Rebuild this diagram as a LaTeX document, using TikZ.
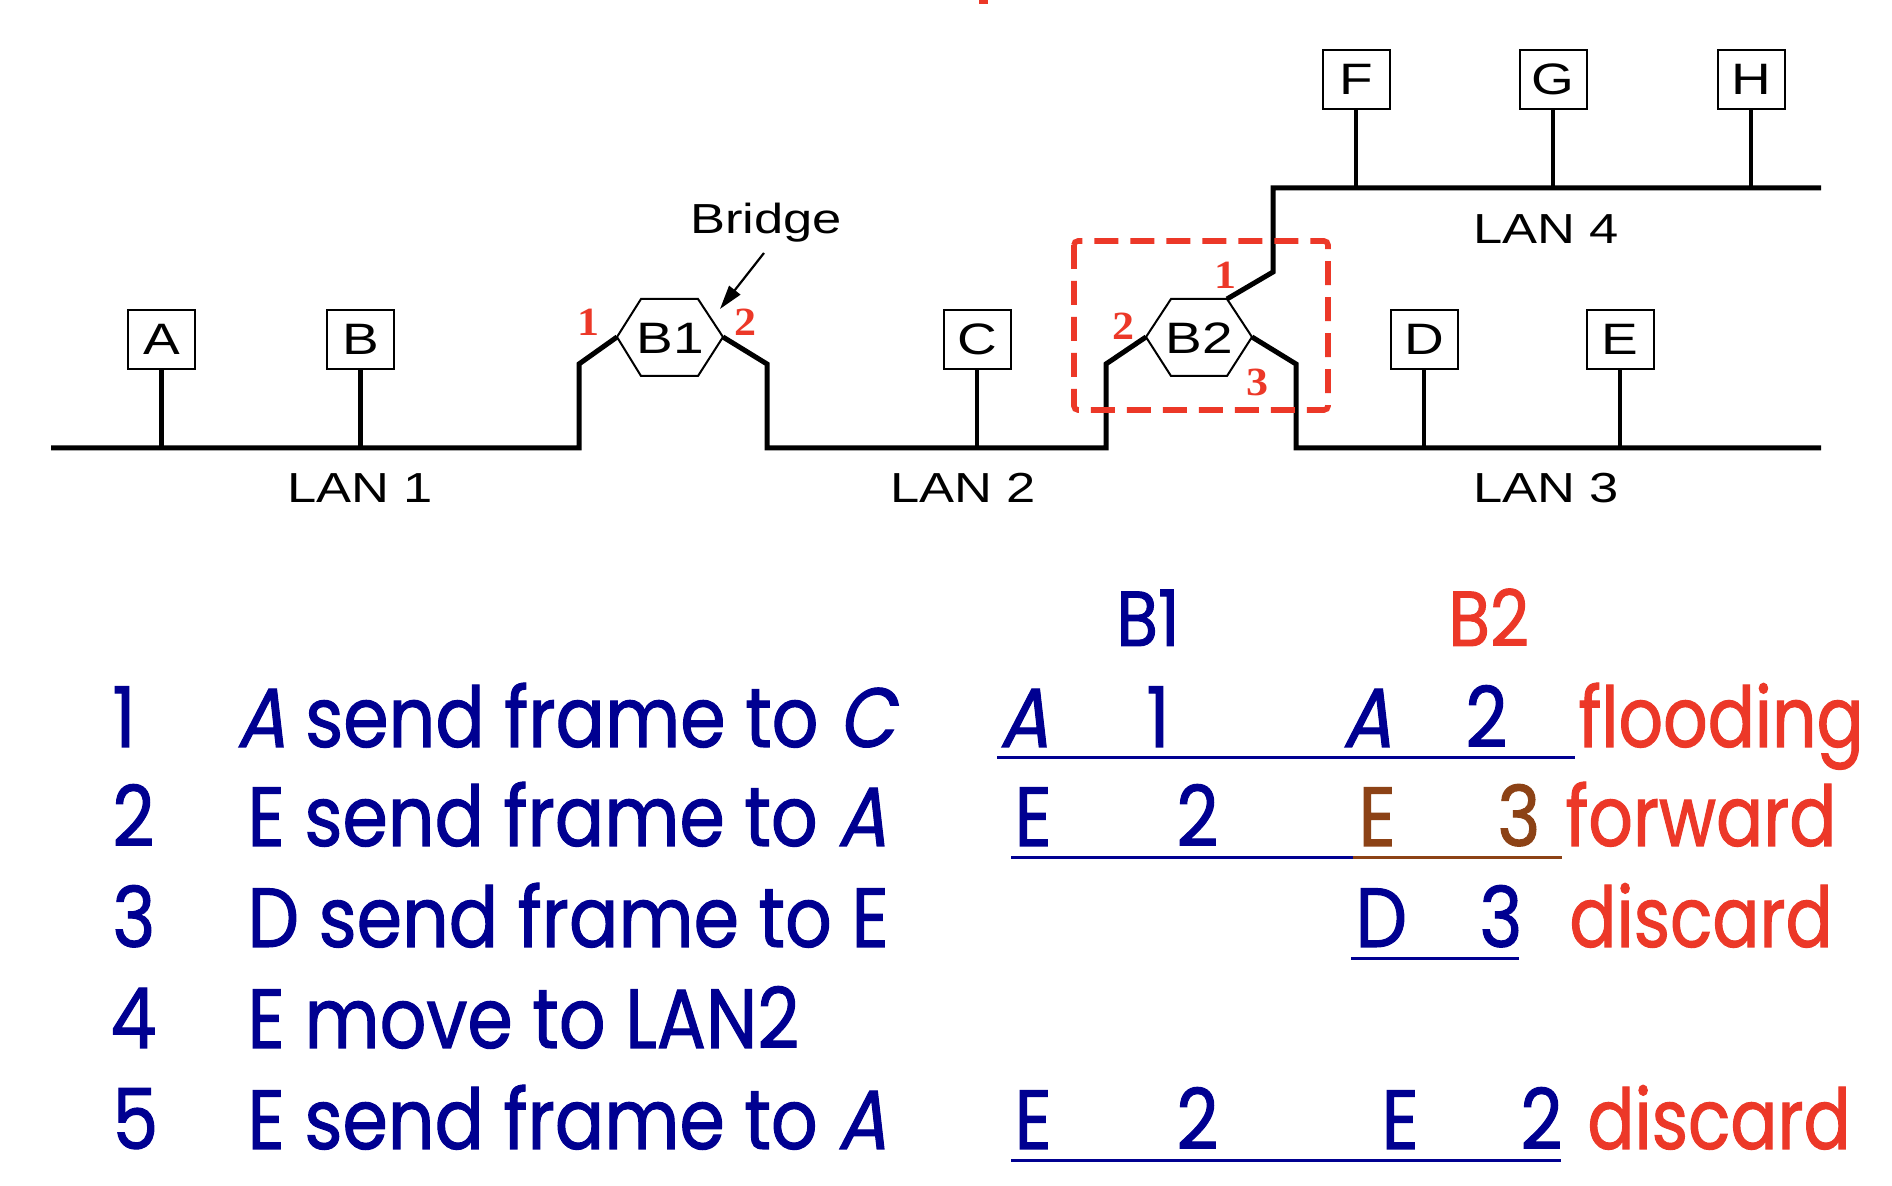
\documentclass[tikz,border=0pt]{standalone}
\usepackage{fontspec}
\setmainfont{Liberation Sans}
\newfontfamily\diagfont{Liberation Sans}[FakeStretch=1.25]
\newfontfamily\portfont{Liberation Serif}[FakeStretch=1.1]
\newfontfamily\hand{Poppins}[FakeStretch=0.87, FakeBold=1.2]
\newfontfamily\handit{Poppins}[FakeStretch=0.87, FakeSlant=0.2, FakeBold=1.2]
\newfontfamily\handact{Poppins}[FakeStretch=0.83, FakeBold=1.2]
\usetikzlibrary{arrows.meta}

\definecolor{navy}{RGB}{0,0,145}
\definecolor{hotred}{RGB}{236,56,40}
\definecolor{rust}{RGB}{140,66,22}

\tikzset{
  bus/.style={line width=2.5pt, line join=miter, line cap=butt},
  stem/.style={line width=2.1pt},
  hexline/.style={line width=1pt, line join=miter},
  station/.style={draw, line width=1pt, minimum width=33.5pt, minimum height=29.5pt,
    inner sep=0pt, font=\diagfont\fontsize{22}{22}\selectfont},
  hexlabel/.style={inner sep=0pt, font=\diagfont\fontsize{22}{22}\selectfont},
  lanlabel/.style={inner sep=0pt, font=\diagfont\fontsize{21}{21}\selectfont},
  portnum/.style={inner sep=0pt, text=hotred, font=\portfont\bfseries\fontsize{20}{20}\selectfont},
  row/.style={anchor=base west, inner sep=0pt, text=navy, font=\hand\fontsize{42}{42}\selectfont},
  head/.style={anchor=base west, inner sep=0pt, font=\hand\fontsize{39}{39}\selectfont},
  act/.style={anchor=base west, inner sep=0pt, text=hotred, font=\handact\fontsize{42}{42}\selectfont},
  uline/.style={line width=1.5pt, draw=navy},
}

\begin{document}
\begin{tikzpicture}[x=0.5pt, y=-0.5pt]
  \useasboundingbox (0,0) rectangle (1892,1186);
  \fill[white] (0,0) rectangle (1892,1186);

  % remnant of a heading above the frame
  \fill[hotred] (979,0) rectangle (988,4);

  % ---- bridge B1 (hexagon) ----
  \coordinate (b1W) at (617,337);
  \coordinate (b1NW) at (641,299);
  \coordinate (b1NE) at (698,299);
  \coordinate (b1E) at (723,337);
  \coordinate (b1SE) at (698,376);
  \coordinate (b1SW) at (641,376);
  \draw[hexline] (b1W) -- (b1NW) -- (b1NE) -- (b1E) -- (b1SE) -- (b1SW) -- cycle;
  \node[hexlabel] (B1) at (670,338) {B1};

  % ---- bridge B2 (hexagon) ----
  \coordinate (b2W) at (1146,337);
  \coordinate (b2NW) at (1171,299);
  \coordinate (b2NE) at (1227,299);
  \coordinate (b2E) at (1252,337);
  \coordinate (b2SE) at (1227,376);
  \coordinate (b2SW) at (1171,376);
  \draw[hexline] (b2W) -- (b2NW) -- (b2NE) -- (b2E) -- (b2SE) -- (b2SW) -- cycle;
  \node[hexlabel] (B2) at (1199,338) {B2};

  % ---- LAN segments ----
  \coordinate (lan1w) at (51,448);
  \coordinate (lan1e) at (579,448);
  \coordinate (lan2w) at (767,448);
  \coordinate (lan2e) at (1106,448);
  \coordinate (lan3w) at (1296,448);
  \coordinate (lan3e) at (1821,448);
  \coordinate (lan4w) at (1273,188);
  \coordinate (lan4e) at (1821,188);

  \draw[bus] (lan1w) -- (lan1e) -- (579,364) -- (b1W);
  \draw[bus] (b1E) -- (767,364) -- (lan2w) -- (lan2e) -- (1106,364) -- (b2W);
  \draw[bus] (b2E) -- (1296,364) -- (lan3w) -- (lan3e);
  \draw[bus] (b2NE) -- (1273,272) -- (lan4w) -- (lan4e);

  % ---- stations ----
  \node[station] (A) at (161.5,339.5) {A};
  \node[station] (B) at (360.5,339.5) {B};
  \node[station] (C) at (977,339.5) {C};
  \node[station] (D) at (1424,339.5) {D};
  \node[station] (E) at (1620,339.5) {E};
  \node[station] (F) at (1356,79.5) {F};
  \node[station] (G) at (1553,79.5) {G};
  \node[station] (H) at (1751,79.5) {H};

  \foreach \s in {A,B} \draw[stem] (\s.south) -- (\s.south |- lan1w);
  \draw[stem] (C.south) -- (C.south |- lan2w);
  \foreach \s in {D,E} \draw[stem] (\s.south) -- (\s.south |- lan3w);
  \foreach \s in {F,G,H} \draw[stem] (\s.south) -- (\s.south |- lan4w);

  % ---- LAN names ----
  \node[lanlabel] (l1) at (360,488) {LAN 1};
  \node[lanlabel] (l2) at (963,488) {LAN 2};
  \node[lanlabel] (l3) at (1546,488) {LAN 3};
  \node[lanlabel] (l4) at (1546,229) {LAN 4};

  % ---- bridge callout ----
  \node[lanlabel, font=\diagfont\fontsize{21}{21}\selectfont] (bridge) at (766,223) {Bridge};
  \coordinate (bridgetip) at (720,309);
  \draw[line width=1.1pt, -{Triangle[length=12pt,width=7pt]}] (bridge.south) ++(-2,10) -- (bridgetip);

  % ---- port numbers ----
  \node[portnum] (p11) at (588,322) {1};
  \node[portnum] (p12) at (745,322) {2};
  \node[portnum] (p21) at (1225,275) {1};
  \node[portnum] (p22) at (1123,326) {2};
  \node[portnum] (p23) at (1257,382) {3};

  % ---- B2 highlight ----
  \draw[hotred, line width=2.8pt, dash pattern=on 12pt off 6pt, rounded corners=2pt]
    (1074,241) rectangle (1328,410);

  % ---- event list ----
  \node[row] (n1) at (112,747) {1};
  \node[row] (n2) at (112,846) {2};
  \node[row] (n3) at (112,947) {3};
  \node[row] (n4) at (110,1048) {4};
  \node[row] (n5) at (112,1149) {5};

  \node[row] (t1) at (236,747) {{\handit A} send frame to {\handit C}};
  \node[row] (t2) at (247,846) {E send frame to {\handit A}};
  \node[row] (t3) at (247,947) {D send frame to E};
  \node[row] (t4) at (247,1048) {E move to LAN2};
  \node[row] (t5) at (247,1149) {E send frame to {\handit A}};

  % ---- filtering tables ----
  \node[head, text=navy] (h1) at (1116,646) {B1};
  \node[head, text=hotred] (h2) at (1448,646) {B2};

  \node[row, font=\handit\fontsize{42}{42}\selectfont] (c1a) at (999,747) {A};
  \node[row] (c1b) at (1146,747) {1};
  \node[row, font=\handit\fontsize{42}{42}\selectfont] (c1c) at (1342,747) {A};
  \node[row] (c1d) at (1465,747) {2};
  \node[act] (c1e) at (1578,747) {flooding};
  \draw[uline] (997,758) -- (1575,758);

  \node[row] (c2a) at (1014,846) {E};
  \node[row] (c2b) at (1176,846) {2};
  \node[row, text=rust] (c2c) at (1358,846) {E};
  \node[row, text=rust] (c2d) at (1497,846) {3};
  \node[act] (c2e) at (1565,846) {forward};
  \draw[uline] (1011,858) -- (1353,858);
  \draw[uline, draw=rust] (1353,858) -- (1562,858);

  \node[row] (c3c) at (1355,947) {D};
  \node[row] (c3d) at (1479,947) {3};
  \node[act] (c3e) at (1569,947) {discard};
  \draw[uline] (1351,959) -- (1519,959);

  \node[row] (c5a) at (1014,1149) {E};
  \node[row] (c5b) at (1176,1149) {2};
  \node[row] (c5c) at (1381,1149) {E};
  \node[row] (c5d) at (1520,1149) {2};
  \node[act] (c5e) at (1587,1149) {discard};
  \draw[uline] (1011,1161) -- (1561,1161);
\end{tikzpicture}
\end{document}
